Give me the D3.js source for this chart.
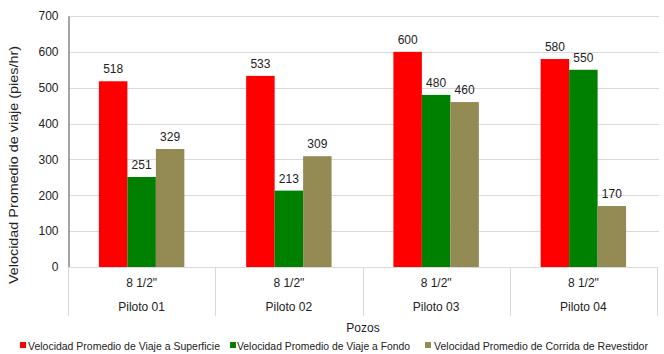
<!DOCTYPE html>
<html>
<head>
<meta charset="utf-8">
<script src="https://cdn.jsdelivr.net/npm/d3@7"></script>
<style>
  html, body { margin: 0; padding: 0; background: #fff; }
  svg { display: block; font-family: "Liberation Sans", Arial, sans-serif; }
</style>
</head>
<body>
<svg id="chart" width="664" height="354"></svg>
<script>
// Wells and the hole size listed under each
const pozos = ["Piloto 01", "Piloto 02", "Piloto 03", "Piloto 04"];
const hoyo = ["8 1/2\"", "8 1/2\"", "8 1/2\"", "8 1/2\""];

// Average speeds (ft/hr)
const viajeSuperficie = [518, 533, 600, 580];
const viajeFondo = [251, 213, 480, 550];
const corridaRevestidor = [329, 309, 460, 170];

const seriesNames = [
  "Velocidad Promedio de Viaje a Superficie",
  "Velocidad Promedio de Viaje a Fondo",
  "Velocidad Promedio de Corrida de Revestidor"
];
const seriesColors = ["#ff0000", "#008000", "#948a54"];
const yTicks = [0, 100, 200, 300, 400, 500, 600, 700];

const series = [viajeSuperficie, viajeFondo, corridaRevestidor];

const svg = d3.select("#chart");
const plotLeft = 68, plotRight = 657, plotTop = 16, plotBottom = 267;

const x = d3.scaleBand().domain(pozos).range([plotLeft, plotRight]).paddingInner(0).paddingOuter(0);
const inner = d3.scaleBand().domain(d3.range(series.length))
  .range([0, x.bandwidth()]).paddingInner(0).paddingOuter(1.085);
const y = d3.scaleLinear().domain([0, 700]).range([plotBottom, plotTop]);

// horizontal gridlines
svg.append("g")
  .selectAll("line")
  .data(yTicks.filter(d => d > 0))
  .join("line")
  .attr("x1", plotLeft).attr("x2", 659)
  .attr("y1", d => Math.round(y(d)) + 0.5).attr("y2", d => Math.round(y(d)) + 0.5)
  .attr("stroke", "#d9d9d9").attr("stroke-width", 1);

// y axis
const yAxis = svg.append("g")
  .attr("transform", `translate(${plotLeft + 0.5},0)`)
  .call(d3.axisLeft(y).tickValues(yTicks).tickSize(0).tickPadding(10));
yAxis.select(".domain").attr("stroke", "#868686").attr("stroke-width", 1.5);
yAxis.selectAll("text").attr("font-size", 12).attr("fill", "#222")
  .attr("font-family", "Liberation Sans, Arial, sans-serif");

// bars
series.forEach((vals, si) => {
  svg.append("g")
    .selectAll("rect")
    .data(vals)
    .join("rect")
    .attr("x", (d, i) => x(pozos[i]) + inner(si))
    .attr("y", d => y(d))
    .attr("width", inner.bandwidth())
    .attr("height", d => y(0) - y(d))
    .attr("fill", seriesColors[si]);

  svg.append("g")
    .selectAll("text")
    .data(vals)
    .join("text")
    .attr("x", (d, i) => x(pozos[i]) + inner(si) + inner.bandwidth() / 2)
    .attr("y", d => y(d) - 8)
    .attr("text-anchor", "middle")
    .attr("font-size", 12)
    .attr("fill", "#222")
    .text(d => d);
});

// category axis: baseline and dividers
svg.append("line")
  .attr("x1", plotLeft).attr("x2", plotRight)
  .attr("y1", plotBottom + 0.5).attr("y2", plotBottom + 0.5)
  .attr("stroke", "#d9d9d9");
const bounds = pozos.map(p => x(p)).concat([plotRight]);
svg.append("g")
  .selectAll("line")
  .data(bounds)
  .join("line")
  .attr("x1", d => Math.round(d) + 0.5).attr("x2", d => Math.round(d) + 0.5)
  .attr("y1", plotBottom).attr("y2", 316)
  .attr("stroke", "#d9d9d9");

svg.append("g")
  .selectAll("text")
  .data(pozos)
  .join("text")
  .attr("x", d => x(d) + x.bandwidth() / 2)
  .attr("y", 287)
  .attr("text-anchor", "middle")
  .attr("font-size", 12)
  .attr("fill", "#222")
  .text((d, i) => hoyo[i]);

svg.append("g")
  .selectAll("text")
  .data(pozos)
  .join("text")
  .attr("x", d => x(d) + x.bandwidth() / 2)
  .attr("y", 311)
  .attr("text-anchor", "middle")
  .attr("font-size", 12)
  .attr("fill", "#222")
  .text(d => d);

// axis titles
svg.append("text")
  .attr("x", 363).attr("y", 332)
  .attr("text-anchor", "middle")
  .attr("font-size", 12)
  .attr("fill", "#222")
  .text("Pozos");

svg.append("text")
  .attr("transform", "translate(18,165) rotate(-90)")
  .attr("text-anchor", "middle")
  .attr("font-size", 12)
  .attr("fill", "#222")
  .attr("textLength", 238)
  .attr("lengthAdjust", "spacingAndGlyphs")
  .text("Velocidad  Promedio de viaje (pies/hr)");

// legend
const legendItems = [
  { sx: 20, tx: 28, w: 192 },
  { sx: 230, tx: 237, w: 173 },
  { sx: 425, tx: 434, w: 214 }
];
const legend = svg.append("g");
legendItems.forEach((it, i) => {
  legend.append("rect")
    .attr("x", it.sx).attr("y", 342)
    .attr("width", 6).attr("height", 6)
    .attr("fill", seriesColors[i]);
  legend.append("text")
    .attr("x", it.tx).attr("y", 350)
    .attr("font-size", 11)
    .attr("fill", "#222")
    .attr("textLength", it.w)
    .attr("lengthAdjust", "spacingAndGlyphs")
    .text(seriesNames[i]);
});
</script>
</body>
</html>
